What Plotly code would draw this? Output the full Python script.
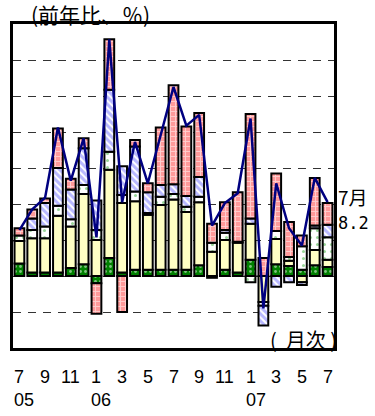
import plotly.graph_objects as go

# ---- data ----
months = ["7", "8", "9", "10", "11", "12", "1", "2", "3", "4", "5", "6", "7",
          "8", "9", "10", "11", "12", "1", "2", "3", "4", "5", "6", "7"]
year_labels = {0: "05", 6: "06", 18: "07"}

green  = [1.4, 0.4, 0.4, 0.4, 0.9, 1.3, -0.8, 2.0, 0.4, 0.7, 0.7, 0.7, 0.7, 0.7, 1.2, -0.2, 0.7, 0.4, 1.8, 0.0, 1.3, 1.1, 0.7, 1.2, 1.0]
yellow = [2.5, 3.8, 3.8, 6.3, 4.6, 7.8, 4.0, 9.8, 7.7, 7.6, 6.1, 7.2, 7.8, 6.4, 7.0, 2.7, 3.3, 3.3, 4.0, -2.9, 2.8, 0.6, -0.7, 1.7, 0.8]
white  = [0.6, 0.9, 1.3, 1.1, 0.8, 1.0, 1.1, 2.0, 0.9, 1.1, 0.2, 0.9, 0.6, 0.6, 0.6, 1.0, 0.8, 0.1, -0.7, -0.4, 0.9, 0.4, 2.6, 2.4, 2.5]
blue   = [0.0, 1.3, 2.6, 4.2, 3.3, 4.1, 3.3, 6.9, 3.2, 5.0, 2.3, 1.3, 1.1, 1.2, 2.2, 0.0, 0.3, 0.0, 0.6, -2.2, -1.2, -0.7, -0.3, 0.3, 1.4]
pink   = [0.8, 1.0, 0.5, 4.4, 1.2, 1.1, -3.4, 5.6, -4.0, 0.7, 1.0, 6.4, 11.0, 7.7, 7.1, 2.1, 3.1, 5.5, 11.6, 2.0, 6.4, 3.9, 1.2, 5.3, 2.4]
total  = [5.1, 7.4, 8.7, 16.5, 10.6, 15.3, 4.3, 26.3, 8.2, 14.9, 10.3, 15.5, 21.0, 16.7, 17.9, 5.6, 8.1, 9.2, 17.5, -3.6, 10.3, 5.3, 3.4, 10.9, 8.2]
last_label = "8.2"

x = list(range(len(months)))

# ---- layout geometry ----
W, H = 375, 416
L, R, T, B = 13, 41, 24, 68
PW, PH = W - L - R, H - T - B

def px(p):
    return (p - L) / PW

def py(p):
    return (H - B - p) / PH

def nz(v):
    return [None if a == 0 else a for a in v]

fig = go.Figure()
outline = dict(color="black", width=2)
bw = 0.76

fig.add_trace(go.Bar(x=x, y=nz(green), width=bw,
    marker=dict(color="#008000", line=outline,
                pattern=dict(shape=".", fgcolor="white", size=5, solidity=0.25, fillmode="overlay"))))
fig.add_trace(go.Bar(x=x, y=nz(yellow), width=bw,
    marker=dict(color="#ffffc4", line=outline)))
fig.add_trace(go.Bar(x=x, y=nz(white), width=bw,
    marker=dict(color="white", line=outline,
                pattern=dict(shape=".", fgcolor="#33aa33", size=7, solidity=0.15, fillmode="overlay"))))
fig.add_trace(go.Bar(x=x, y=nz(blue), width=bw,
    marker=dict(color="white", line=outline,
                pattern=dict(shape="\\", fgcolor="#6f6fff", size=5, solidity=0.6, fillmode="overlay"))))
fig.add_trace(go.Bar(x=x, y=nz(pink), width=bw,
    marker=dict(color="#ff9a9a", line=outline,
                pattern=dict(shape="+", fgcolor="white", size=5, solidity=0.35, fillmode="overlay"))))
fig.add_trace(go.Scatter(x=x, y=total, mode="lines",
    line=dict(color="#000080", width=2.5)))

annotations = []
for i, m in enumerate(months):
    if i % 2 == 0:
        annotations.append(dict(x=i, xref="x", y=py(377), yref="paper", text=m,
            showarrow=False, xanchor="center", yanchor="middle",
            font=dict(family="Liberation Sans, Arial", size=18, color="black")))
for i, yl in year_labels.items():
    annotations.append(dict(x=i, xref="x", y=py(400), yref="paper", text=yl,
        showarrow=False, xanchor="center", yanchor="middle", xshift=5,
        font=dict(family="Liberation Sans, Arial", size=18, color="black")))

annotations.append(dict(x=px(29), xref="paper", y=py(14), yref="paper", text="(前年比、％)",
    showarrow=False, xanchor="left", yanchor="middle",
    font=dict(family="Noto Sans CJK JP", size=21, color="black")))
annotations.append(dict(x=px(339), xref="paper", y=py(339), yref="paper", text="(&nbsp;&nbsp;月次 )",
    showarrow=False, xanchor="right", yanchor="middle",
    font=dict(family="Noto Sans CJK JP", size=20, color="black")))
annotations.append(dict(x=px(336), xref="paper", y=py(197), yref="paper", text="7月",
    showarrow=False, xanchor="left", yanchor="middle",
    font=dict(family="Noto Sans CJK JP", size=19, color="black")))
annotations.append(dict(x=px(336), xref="paper", y=py(223), yref="paper", text=last_label,
    showarrow=False, xanchor="left", yanchor="middle",
    font=dict(family="DejaVu Sans Mono", size=17, color="black")))

fig.update_layout(
    width=W, height=H,
    margin=dict(l=L, r=R, t=T, b=B, pad=0),
    paper_bgcolor="white", plot_bgcolor="white",
    barmode="relative", bargap=0.2,
    showlegend=False,
    annotations=annotations,
    xaxis=dict(range=[-0.5, len(months) - 0.5], showticklabels=False, ticks="",
               showgrid=False, zeroline=False,
               showline=True, mirror=True, linecolor="black", linewidth=2.5),
    yaxis=dict(range=[-8, 28], dtick=4, tick0=0, showticklabels=False, ticks="",
               showgrid=True, gridcolor="#333333", gridwidth=1, griddash="8px,7px",
               zeroline=False,
               showline=True, mirror=True, linecolor="black", linewidth=2.5),
)

fig.write_html("out.html", config={"displayModeBar": False},
               post_script="document.body.style.margin='0px';")
